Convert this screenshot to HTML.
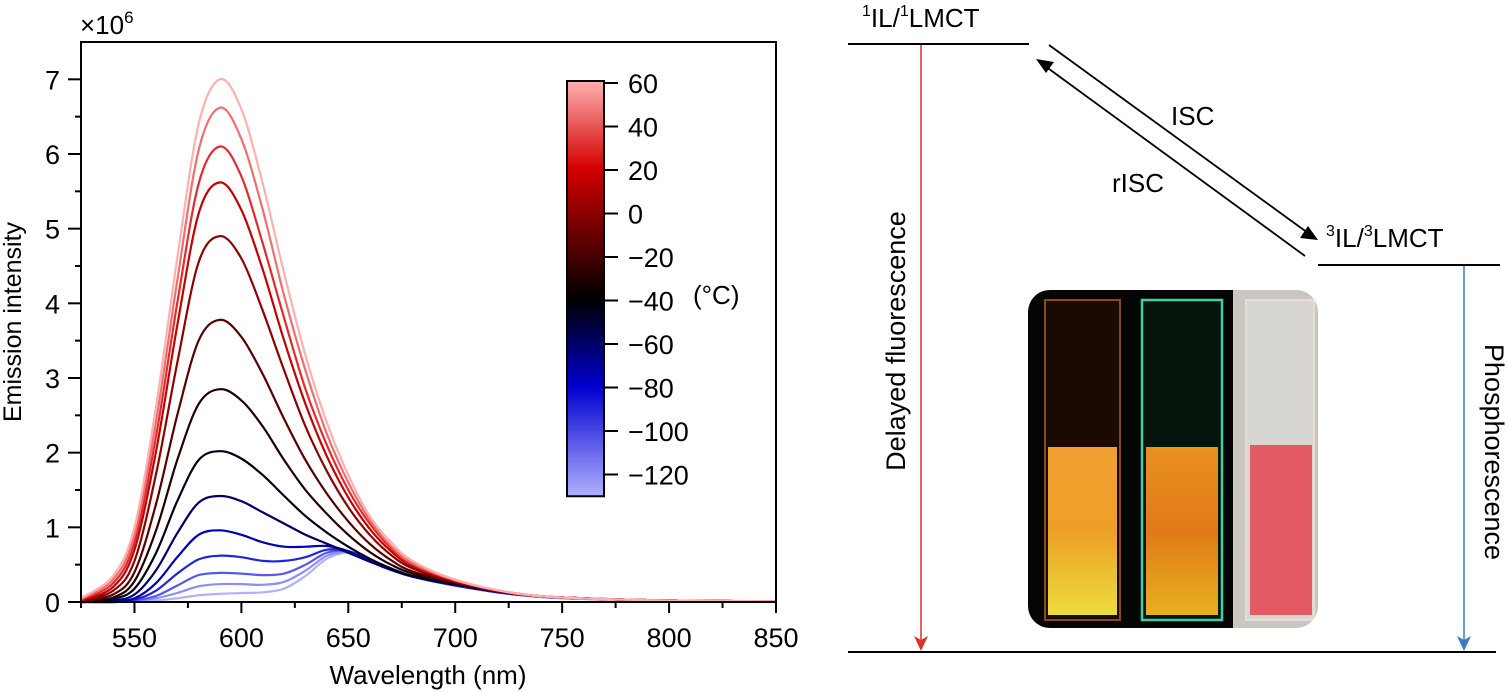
<!DOCTYPE html>
<html><head><meta charset="utf-8">
<style>
html,body{margin:0;padding:0;background:#fff;}
body{width:1508px;height:692px;position:relative;overflow:hidden;font-family:"Liberation Sans",Arial,sans-serif;}
svg{position:absolute;left:0;top:0;}
</style></head>
<body>
<svg id="chart" width="1508" height="692" viewBox="0 0 1508 692" xmlns="http://www.w3.org/2000/svg">
<defs>
<linearGradient id="cbGrad" x1="0" y1="1" x2="0" y2="0">
<stop offset="0" stop-color="#b0b0ff"/>
<stop offset="0.263" stop-color="#0000d0"/>
<stop offset="0.474" stop-color="#000000"/>
<stop offset="0.789" stop-color="#d40000"/>
<stop offset="1" stop-color="#ffb0b0"/>
</linearGradient>
<linearGradient id="v1g" x1="0" y1="0" x2="0" y2="1">
<stop offset="0" stop-color="#f0a030"/><stop offset="0.5" stop-color="#eda028"/><stop offset="1" stop-color="#ecdc3a"/>
</linearGradient>
<linearGradient id="v2g" x1="0" y1="0" x2="0" y2="1">
<stop offset="0" stop-color="#e89020"/><stop offset="0.5" stop-color="#e07a18"/><stop offset="1" stop-color="#e8b020"/>
</linearGradient>
<clipPath id="photoClip"><rect x="1028" y="290" width="290" height="338" rx="22"/></clipPath>
</defs>
<g id="curves"></g>
<g id="axes"></g>
<g id="cbar"></g>

<!-- Energy diagram -->
<g font-size="26" fill="#000">
<line x1="848" y1="44" x2="1029" y2="44" stroke="#000" stroke-width="2"/>
<text x="862" y="27"><tspan font-size="16" dy="-11">1</tspan><tspan dy="11">IL/</tspan><tspan font-size="16" dy="-11">1</tspan><tspan dy="11">LMCT</tspan></text>
<line x1="1318" y1="265" x2="1500" y2="265" stroke="#000" stroke-width="2"/>
<text x="1326" y="247"><tspan font-size="16" dy="-11">3</tspan><tspan dy="11">IL/</tspan><tspan font-size="16" dy="-11">3</tspan><tspan dy="11">LMCT</tspan></text>
<line x1="848" y1="652" x2="1496" y2="652" stroke="#000" stroke-width="2"/>
<line x1="1049" y1="45" x2="1308" y2="233" stroke="#000" stroke-width="1.8"/>
<polygon points="1318,240 1300,238 1308,226" fill="#000"/>
<line x1="1305" y1="256" x2="1045" y2="66" stroke="#000" stroke-width="1.8"/>
<polygon points="1036,59 1054,62 1046,73" fill="#000"/>
<text x="1171" y="125" font-size="26">ISC</text>
<text x="1112" y="192" font-size="26">rISC</text>
<line x1="921" y1="45" x2="921" y2="640" stroke="#d8342a" stroke-width="1.5"/>
<polygon points="921,651 914,636 921,640 928,636" fill="#d8342a"/>
<line x1="1464" y1="266" x2="1464" y2="640" stroke="#3a7cc0" stroke-width="1.5"/>
<polygon points="1464,651 1457,636 1464,640 1471,636" fill="#3a7cc0"/>
<text transform="translate(905,341) rotate(-90)" text-anchor="middle" font-size="27">Delayed fluorescence</text>
<text transform="translate(1485,452) rotate(90)" text-anchor="middle" font-size="27">Phosphorescence</text>
</g>

<!-- Photo of vials -->
<g clip-path="url(#photoClip)">
<rect x="1028" y="290" width="205" height="338" fill="#050505"/>
<rect x="1233" y="290" width="85" height="338" fill="#c9c5bf"/>
<rect x="1045" y="300" width="75" height="320" fill="#1a0a02" stroke="#8a4a10" stroke-width="2"/>
<rect x="1048" y="447" width="69" height="168" fill="url(#v1g)"/>
<rect x="1142" y="300" width="80" height="320" fill="#06140c" stroke="#40d0a0" stroke-width="2.5"/>
<rect x="1146" y="447" width="72" height="168" fill="url(#v2g)"/>
<rect x="1246" y="300" width="68" height="320" fill="#d8d6d2" stroke="#e8dcd8" stroke-width="2"/>
<rect x="1250" y="445" width="62" height="170" fill="#e45a62"/>
</g>
</svg>

<script>
// ---- chart data ----
const wavelengths = [525,540,550,560,570,580,590,600,610,620,630,640,650,660,670,680,700,725,750,800,850];
const temperatures = [60,45,30,15,0,-15,-30,-45,-60,-75,-90,-105,-120,-130];
const s1 = [0.05,0.35,1.0,2.6,4.6,6.4,7.0,6.6,5.6,4.4,3.3,2.4,1.7,1.15,0.8,0.55,0.3,0.13,0.06,0.02,0.01];
const s2 = [0.04,0.3,0.9,2.4,4.3,6.05,6.62,6.2,5.25,4.1,3.1,2.25,1.6,1.1,0.75,0.52,0.29,0.13,0.06,0.02,0.01];
const s3 = [0.03,0.25,0.8,2.2,4.0,5.6,6.1,5.7,4.8,3.8,2.85,2.1,1.5,1.05,0.72,0.5,0.29,0.13,0.06,0.02,0.01];
const s4 = [0.02,0.2,0.7,2.0,3.7,5.2,5.62,5.25,4.45,3.5,2.65,1.95,1.4,0.98,0.68,0.48,0.28,0.13,0.06,0.02,0.01];
const s5 = [0.01,0.15,0.55,1.7,3.2,4.55,4.9,4.6,3.9,3.1,2.35,1.75,1.27,0.9,0.63,0.45,0.27,0.12,0.06,0.02,0.01];
const s6 = [0.01,0.1,0.4,1.3,2.5,3.5,3.78,3.55,3.05,2.45,1.9,1.45,1.08,0.78,0.56,0.41,0.26,0.12,0.06,0.02,0.01];
const s7 = [0,0.06,0.28,0.95,1.9,2.65,2.85,2.7,2.35,1.9,1.5,1.18,0.9,0.67,0.5,0.38,0.25,0.12,0.06,0.02,0.01];
const s8 = [0,0.04,0.18,0.65,1.35,1.9,2.02,1.92,1.7,1.42,1.15,0.93,0.74,0.58,0.45,0.35,0.24,0.12,0.06,0.02,0.01];
const s9 = [0,0.02,0.1,0.42,0.92,1.33,1.42,1.35,1.2,1.05,0.9,0.78,0.66,0.54,0.43,0.34,0.23,0.12,0.06,0.02,0.01];
const s10 = [0,0.01,0.05,0.25,0.6,0.9,0.96,0.9,0.8,0.74,0.74,0.75,0.68,0.55,0.43,0.34,0.23,0.12,0.06,0.02,0.01];
const s11 = [0,0,0.03,0.15,0.38,0.57,0.62,0.6,0.55,0.55,0.6,0.7,0.68,0.56,0.44,0.34,0.22,0.11,0.06,0.02,0.01];
const s12 = [0,0,0.02,0.08,0.22,0.36,0.39,0.38,0.36,0.38,0.5,0.66,0.68,0.57,0.44,0.34,0.22,0.11,0.06,0.02,0.01];
const s13 = [0,0,0.01,0.05,0.12,0.21,0.24,0.24,0.23,0.27,0.42,0.62,0.67,0.57,0.44,0.34,0.22,0.11,0.05,0.02,0.01];
const s14 = [0,0,0,0.02,0.05,0.09,0.11,0.12,0.13,0.18,0.35,0.58,0.66,0.57,0.44,0.34,0.22,0.11,0.05,0.02,0.01];
const series = [s1,s2,s3,s4,s5,s6,s7,s8,s9,s10,s11,s12,s13,s14];
const xTicks = [550,600,650,700,750,800,850];
const yTicks = [0,1,2,3,4,5,6,7];
const cbTicks = [60,40,20,0,-20,-40,-60,-80,-100,-120];

const NS = 'http://www.w3.org/2000/svg';
const X0=81, X1=776, Y0=602, YTOP=42;
const xMin=525, xMax=850, yMin=0, yMax=7.5;
function xs(v){return X0+(v-xMin)/(xMax-xMin)*(X1-X0);}
function ys(v){return Y0-(v-yMin)/(yMax-yMin)*(Y0-YTOP);}
const CB_TOP=83, CB_STEP=43.5/20;
function cbY(t){return CB_TOP+(60-t)*CB_STEP;}

function mk(tag, attrs, parent){const e=document.createElementNS(NS,tag);for(const k in attrs)e.setAttribute(k,attrs[k]);parent.appendChild(e);return e;}

const cstops=[[60,[255,176,176]],[20,[212,0,0]],[-40,[0,0,0]],[-80,[0,0,208]],[-130,[176,176,255]]];
function tempColor(t){
  for(let i=0;i<cstops.length-1;i++){
    const a=cstops[i],b=cstops[i+1];
    if(t<=a[0]&&t>=b[0]){const f=(a[0]-t)/(a[0]-b[0]);
      const c=a[1].map((v,j)=>Math.round(v+(b[1][j]-v)*f));return 'rgb('+c.join(',')+')';}
  }
  return 'rgb(176,176,255)';
}
function smoothPath(pts){
  let d='M'+pts[0][0].toFixed(1)+','+pts[0][1].toFixed(1);
  for(let i=0;i<pts.length-1;i++){
    const p0=pts[i-1]||pts[i],p1=pts[i],p2=pts[i+1],p3=pts[i+2]||p2;
    const c1=[p1[0]+(p2[0]-p0[0])/6,p1[1]+(p2[1]-p0[1])/6];
    const c2=[p2[0]-(p3[0]-p1[0])/6,p2[1]-(p3[1]-p1[1])/6];
    d+=' C'+c1[0].toFixed(1)+','+c1[1].toFixed(1)+' '+c2[0].toFixed(1)+','+c2[1].toFixed(1)+' '+p2[0].toFixed(1)+','+p2[1].toFixed(1);
  }
  return d;
}
const gC=document.getElementById('curves');
for(let k=series.length-1;k>=0;k--){
  const pts=wavelengths.map((w,i)=>[xs(w),Math.min(Y0,ys(series[k][i]))]);
  const p=mk('path',{d:smoothPath(pts),fill:'none',stroke:tempColor(temperatures[k]),'stroke-width':2.2,'stroke-linejoin':'round'},gC);
  
  
}

const gA=document.getElementById('axes');
let r=mk('rect',{x:X0,y:YTOP,width:X1-X0,height:Y0-YTOP,fill:'none',stroke:'#000','stroke-width':2},gA);


yTicks.forEach(v=>{
  mk('line',{x1:X0-13,x2:X0,y1:ys(v),y2:ys(v),stroke:'#000','stroke-width':2},gA);
  const t=mk('text',{x:X0-21,y:ys(v)+10,'text-anchor':'end','font-size':27},gA);
  t.textContent=v;
  
  
  if(v<7) mk('line',{x1:X0-6,x2:X0,y1:ys(v+0.5),y2:ys(v+0.5),stroke:'#000','stroke-width':2},gA);
});
xTicks.forEach(v=>{
  mk('line',{x1:xs(v),x2:xs(v),y1:Y0,y2:Y0+11,stroke:'#000','stroke-width':2},gA);
  mk('line',{x1:xs(v-25),x2:xs(v-25),y1:Y0,y2:Y0+6,stroke:'#000','stroke-width':2},gA);
  const t=mk('text',{x:xs(v),y:Y0+45,'text-anchor':'middle','font-size':27},gA);
  t.textContent=v;
  
  
});
let t=mk('text',{x:428,y:684,'text-anchor':'middle','font-size':26},gA);
t.textContent='Wavelength (nm)';


t=mk('text',{transform:'translate(21,322) rotate(-90)','text-anchor':'middle','font-size':25},gA);
t.textContent='Emission intensity';


t=mk('text',{x:80,y:34,'font-size':26},gA);
t.innerHTML='×10<tspan font-size="17" dy="-11">6</tspan>';



const gB=document.getElementById('cbar');
r=mk('rect',{x:567,y:81,width:37,height:cbY(-130)-81,fill:'url(#cbGrad)',stroke:'#000','stroke-width':2},gB);


cbTicks.forEach(v=>{
  mk('line',{x1:604,x2:618,y1:cbY(v),y2:cbY(v),stroke:'#000','stroke-width':2},gB);
  const tt=mk('text',{x:628,y:cbY(v)+10,'font-size':27},gB);
  tt.textContent=(v<0?'\u2212'+(-v):v);
  
  
});
t=mk('text',{x:693,y:304,'font-size':26},gB);
t.textContent='(°C)';


</script>
</body></html>
